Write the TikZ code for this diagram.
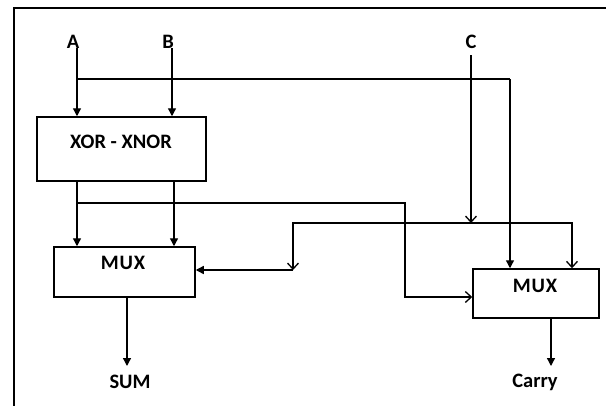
\documentclass[tikz,border=0pt]{standalone}
\usepackage{fontspec}
\setmainfont{Carlito}
\usetikzlibrary{arrows.meta,calc}
\begin{document}
\begin{tikzpicture}[x=1pt,y=-1pt, line width=1.3pt,
  lbl/.style={font=\fontsize{20.5}{23}\selectfont\bfseries, inner sep=0pt},
  blk/.style={draw, line width=1.5pt, inner sep=0pt},
  fa/.style={-{Triangle[length=8pt,width=8pt]}},
  oa/.style={-{Straight Barb[length=6pt,width=11pt]}},
  ob/.style={{Straight Barb[length=6pt,width=11pt]}-{Straight Barb[length=6pt,width=11pt]}}]
\useasboundingbox (0,0) rectangle (606,405);
\draw[line width=2.2pt] (14,407) -- (14,8) -- (608,8);

% labels
\node[lbl] (A) at (73,42) {A};
\node[lbl] (B) at (168,42) {B};
\node[lbl] (C) at (471,42) {C};
\node[lbl] (sum) at (130,382) {SUM};
\node[lbl] (carry) at (535,382) {Carry};

% blocks
\node[blk, minimum width=169pt, minimum height=64pt] (xor) at (121.5,149) {};
\node[lbl] (xort) at (121,142) {XOR - XNOR};
\node[blk, minimum width=141pt, minimum height=50pt] (mux1) at (124.5,272) {};
\node[lbl] (mux1t) at (123,263) {M\kern0.8pt U\kern0.8pt X};
\node[blk, minimum width=126pt, minimum height=49pt] (mux2) at (536,293.5) {};
\node[lbl] (mux2t) at (535,286) {M\kern0.8pt U\kern0.8pt X};

% coordinates
\coordinate (a0) at (77,48);
\coordinate (b0) at (172,48);
\coordinate (c0) at (471,55);
\coordinate (j1) at (77,79);
\coordinate (j2) at (510,79);
\coordinate (x1) at (77,181);
\coordinate (x2) at (174,181);
\coordinate (k1) at (77,203);
\coordinate (k2) at (405,203);
\coordinate (k3) at (405,297);
\coordinate (m1) at (293,223);
\coordinate (m2) at (572,223);
\coordinate (m0) at (293,270);
\coordinate (cc) at (471,223);
\coordinate (s0) at (127,297);
\coordinate (s1) at (127,366);
\coordinate (r0) at (551,318);
\coordinate (r1) at (551,366);

% connectors
\draw[fa] (a0) -- (a0 |- xor.north);
\draw[fa] (b0) -- (b0 |- xor.north);
\draw (j1) -- (j2);
\draw[fa] (j2) -- (j2 |- mux2.north);
\draw[oa] (c0) -- (cc);
\draw[fa] (x1) -- (x1 |- mux1.north);
\draw[fa] (x2) -- (x2 |- mux1.north);
\draw[oa] (k1) -- (k2) -- (k3) -- (k3 -| mux2.west);
\draw[ob] (m0) -- (m1) -- (m2) -- (m2 |- mux2.north);
\draw[fa] (m0) -- (m0 -| mux1.east);
\draw[fa] (s0) -- (s1);
\draw[fa] (r0) -- (r1);
\end{tikzpicture}
\end{document}
